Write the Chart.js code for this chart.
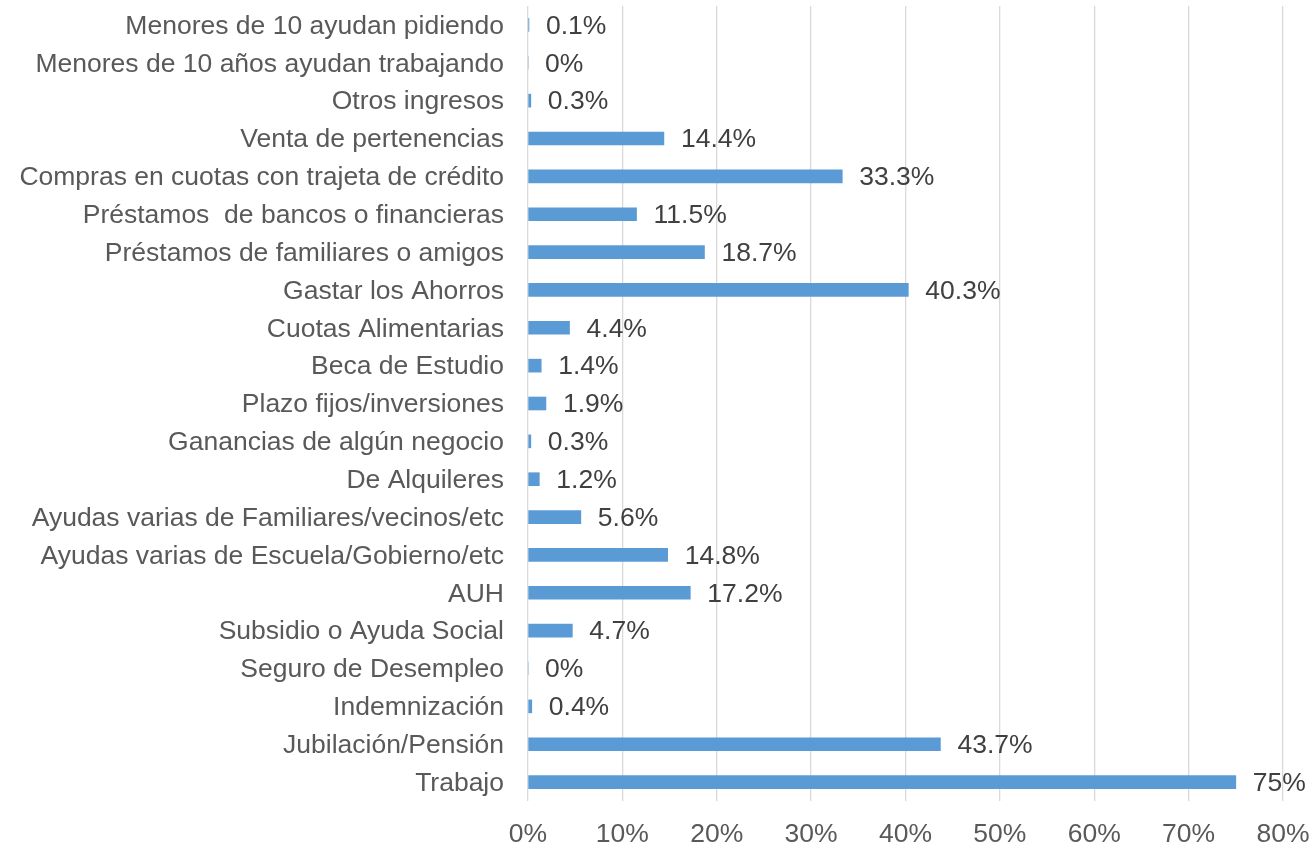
<!DOCTYPE html>
<html>
<head>
<meta charset="utf-8">
<script src="https://cdn.jsdelivr.net/npm/chart.js@4/dist/chart.umd.min.js"></script>
<style>
  html, body { margin: 0; padding: 0; background: #ffffff; }
  #wrap { width: 1315px; height: 846px; position: relative; }
</style>
</head>
<body>
<div id="wrap"><canvas id="c" width="1315" height="846"></canvas></div>
<script>
const categories = [
  "Menores de 10 ayudan pidiendo",
  "Menores de 10 años ayudan trabajando",
  "Otros ingresos",
  "Venta de pertenencias",
  "Compras en cuotas con trajeta de crédito",
  "Préstamos  de bancos o financieras",
  "Préstamos de familiares o amigos",
  "Gastar los Ahorros",
  "Cuotas Alimentarias",
  "Beca de Estudio",
  "Plazo fijos/inversiones",
  "Ganancias de algún negocio",
  "De Alquileres",
  "Ayudas varias de Familiares/vecinos/etc",
  "Ayudas varias de Escuela/Gobierno/etc",
  "AUH",
  "Subsidio o Ayuda Social",
  "Seguro de Desempleo",
  "Indemnización",
  "Jubilación/Pensión",
  "Trabajo"
];
const values = [0.1, 0, 0.3, 14.4, 33.3, 11.5, 18.7, 40.3, 4.4, 1.4, 1.9, 0.3, 1.2, 5.6, 14.8, 17.2, 4.7, 0, 0.4, 43.7, 75];
const xTicks = [0, 10, 20, 30, 40, 50, 60, 70, 80];

const FONT = { family: "'Liberation Sans', Arial, sans-serif", size: 26.5 };
const TEXT = '#595959';

const dataLabels = {
  id: 'dataLabels',
  afterDatasetsDraw(chart) {
    const ctx = chart.ctx;
    const meta = chart.getDatasetMeta(0);
    ctx.save();
    ctx.font = FONT.size + "px " + FONT.family;
    ctx.fillStyle = '#404040';
    ctx.textAlign = 'left';
    ctx.textBaseline = 'middle';
    meta.data.forEach((bar, i) => {
      const v = values[i];
      ctx.fillText(v + '%', bar.x + 17, bar.y + 1.5);
    });
    ctx.restore();
  }
};

new Chart(document.getElementById('c'), {
  type: 'bar',
  data: {
    labels: categories,
    datasets: [{
      data: values,
      backgroundColor: '#5B9BD5',
      borderWidth: 0,
      barThickness: 13
    }]
  },
  options: {
    indexAxis: 'y',
    responsive: false,
    animation: false,
    devicePixelRatio: 1,
    layout: { padding: { top: 6, right: 32, left: 0, bottom: 0 } },
    plugins: { legend: { display: false }, tooltip: { enabled: false } },
    scales: {
      x: {
        min: 0, max: 80,
        afterBuildTicks(scale) { scale.ticks = xTicks.map(v => ({ value: v })); },
        afterFit(scale) {
          scale.height = 45;
          scale.paddingLeft = 0; scale.paddingRight = 0;
          scale.paddingTop = 0; scale.paddingBottom = 0;
        },
        grid: { color: '#D9D9D9', lineWidth: 1.3, drawTicks: false },
        border: { display: false },
        ticks: { color: TEXT, font: FONT, padding: 18, callback: v => v + '%' }
      },
      y: {
        afterFit(scale) {
          scale.width = 528;
          scale.paddingLeft = 0; scale.paddingRight = 0;
          scale.paddingTop = 0; scale.paddingBottom = 0;
        },
        grid: { display: false, drawTicks: false },
        border: { display: false },
        ticks: { color: TEXT, font: FONT, padding: 24, autoSkip: false, labelOffset: 1.5 }
      }
    }
  },
  plugins: [dataLabels]
});
</script>
</body>
</html>
